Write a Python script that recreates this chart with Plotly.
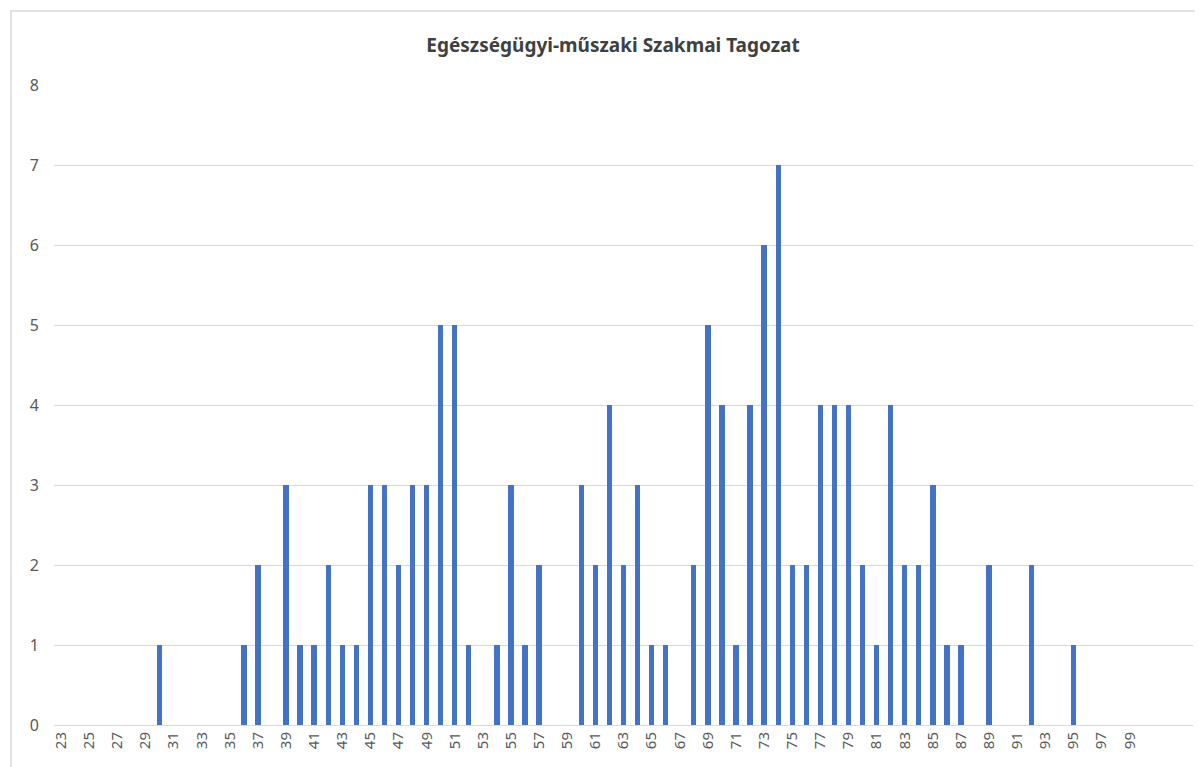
import plotly.graph_objects as go

title_text = "Egészségügyi-műszaki Szakmai Tagozat"

scores = [30, 36, 37, 39, 40, 41, 42, 43, 44, 45, 46, 47, 48, 49, 50, 51, 52,
          54, 55, 56, 57, 60, 61, 62, 63, 64, 65, 66, 68, 69, 70, 71, 72, 73,
          74, 75, 76, 77, 78, 79, 80, 81, 82, 83, 84, 85, 86, 87, 89, 92, 95]
counts = [1, 1, 2, 3, 1, 1, 2, 1, 1, 3, 3, 2, 3, 3, 5, 5, 1,
          1, 3, 1, 2, 3, 2, 4, 2, 3, 1, 1, 2, 5, 4, 1, 4, 6,
          7, 2, 2, 4, 4, 4, 2, 1, 4, 2, 2, 3, 1, 1, 2, 2, 1]

first_cat, last_cat = 23, 103
tick_labels = list(range(23, 100, 2))
y_ticks = list(range(0, 9))

# page body has an 8px offset, so figure coordinates = screen - 8
OFF = 8
W, H = 1203 - OFF, 767 - OFF
ml, mr, mt, mb = 54 - OFF, 10, 85 - OFF, 767 - 725
pw, ph = W - ml - mr, H - mt - mb

fig = go.Figure(go.Bar(
    x=scores, y=counts, width=0.38,
    marker=dict(color="#4472C4", line=dict(width=0)),
    hoverinfo="x+y",
))

def px_to_paper_x(px):
    return (px - OFF - ml) / pw

def px_to_paper_y(py):
    return (H - mb - (py - OFF)) / ph

fig.update_layout(
    width=W, height=H,
    margin=dict(l=ml, r=mr, t=mt, b=mb),
    paper_bgcolor="white", plot_bgcolor="white",
    showlegend=False,
    bargap=0,
    title=dict(text="<b>" + title_text + "</b>", x=px_to_paper_x(613), xref="paper",
               xanchor="center", y=1 - (45 - OFF) / H, yanchor="middle",
               font=dict(family="Noto Sans", size=19, color="#404040")),
    xaxis=dict(
        range=[first_cat - 0.5, last_cat + 0.5],
        tickmode="array", tickvals=tick_labels, ticktext=[str(t) for t in tick_labels],
        tickangle=-90, showgrid=False, zeroline=False,
        showline=True, linecolor="#d9d9d9", linewidth=1,
        ticks="", tickfont=dict(family="Noto Sans", size=15, color="#595959"),
        fixedrange=True,
    ),
    yaxis=dict(
        range=[0, 8], tickmode="array", tickvals=y_ticks,
        showgrid=True, gridcolor="#d9d9d9", gridwidth=1,
        zeroline=False, showline=False, ticks="",
        ticklabelstandoff=14,
        tickfont=dict(family="Noto Sans", size=16, color="#595959"),
        fixedrange=True,
    ),
    shapes=[dict(
        type="rect", xref="paper", yref="paper",
        x0=px_to_paper_x(11), x1=px_to_paper_x(1215),
        y0=px_to_paper_y(780), y1=px_to_paper_y(11),
        line=dict(color="#d9d9d9", width=1.5), fillcolor="rgba(0,0,0,0)",
        layer="below",
    )],
)

fig.write_html("out.html")
